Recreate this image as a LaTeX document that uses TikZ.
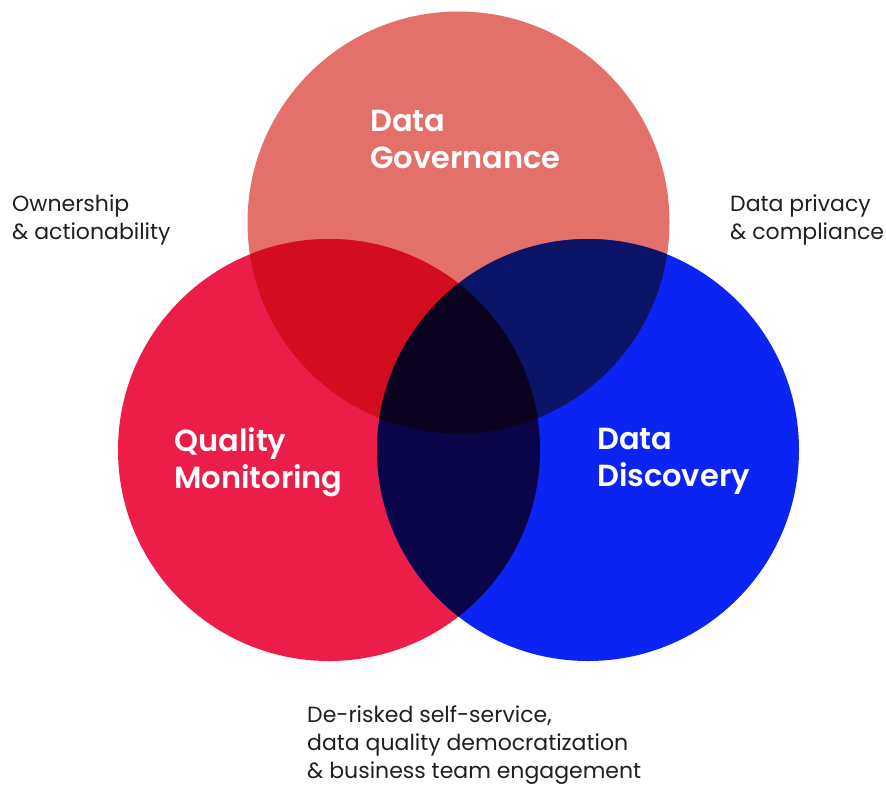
\documentclass[tikz,border=0pt]{standalone}
\usepackage{fontspec}
\setmainfont{Poppins}[BoldFont={Poppins SemiBold}]
\usetikzlibrary{positioning}

\definecolor{govred}{HTML}{E4706A}
\definecolor{qmred}{HTML}{EC1D48}
\definecolor{ddblue}{HTML}{0B24F4}
\definecolor{govqm}{HTML}{D30C20}
\definecolor{govdd}{HTML}{0C1468}
\definecolor{qmdd}{HTML}{0A0548}
\definecolor{core}{HTML}{0B0220}
\definecolor{notegray}{HTML}{1F1F1F}

\begin{document}
\begin{tikzpicture}[x=1pt, y=-1pt,
    ring/.style={circle, minimum size=422pt, inner sep=0pt},
    title/.style={anchor=north west, inner sep=0pt, align=left, text=white,
      font=\fontsize{30.5}{37}\selectfont\bfseries},
    note/.style={anchor=north west, inner sep=0pt, align=left, text=notegray,
      font=\fontsize{22}{28}\selectfont}
  ]
  \useasboundingbox (0,0) rectangle (886,785);

  % the three circles
  \node[ring, fill=govred] (gov) at (458.5,222.5) {};
  \node[ring, fill=qmred]  (qm)  at (329,450) {};
  \node[ring, fill=ddblue] (dd)  at (588,450) {};

  % pairwise overlaps
  \begin{scope}
    \clip (gov.center) circle (211);
    \fill[govqm] (qm.center) circle (211);
    \fill[govdd] (dd.center) circle (211);
  \end{scope}
  \begin{scope}
    \clip (qm.center) circle (211);
    \fill[qmdd] (dd.center) circle (211);
    % centre, where all three meet
    \clip (gov.center) circle (211);
    \fill[core] (dd.center) circle (211);
  \end{scope}

  % circle titles
  \node[title] (govtxt) at (370,110) {Data\\Governance};
  \node[title] (qmtxt)  at (174,427) {Quality\\Monitoring};
  \node[title] (ddtxt)  at (597,428) {Data\\Discovery};

  % outcomes of each overlap
  \node[note] (own)  at (12,195)  {Ownership\\\& actionability};
  \node[note] (priv) at (730,195) {Data privacy\\\& compliance};
  \node[note] (self) at (307,705) {De-risked self-service,\\data quality democratization\\\& business team engagement};
\end{tikzpicture}
\end{document}
